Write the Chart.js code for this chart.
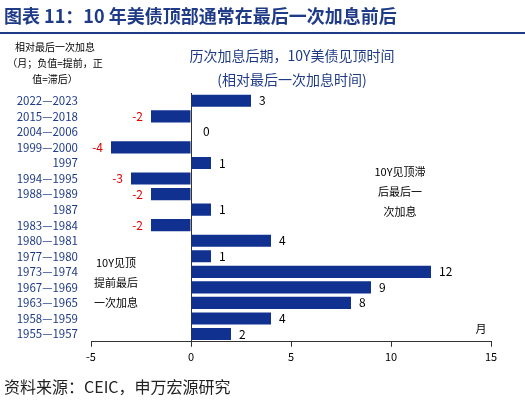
<!DOCTYPE html>
<html><head><meta charset="utf-8">
<script src="https://cdn.jsdelivr.net/npm/chart.js@4"></script>
<style>
body{margin:0;width:525px;height:409px;position:relative;background:#fff;font-family:"Noto Sans CJK SC",sans-serif;overflow:hidden}
#wrap{position:absolute;left:0;top:0;width:525px;height:409px}
#head{position:absolute;left:4px;top:2px;font-weight:bold;font-size:18px;color:#1f3b87}
#line{position:absolute;left:0;top:32px;width:525px;height:2px;background:#1f3b87}
#foot{position:absolute;left:4px;top:374px;font-size:16px;color:#222}
</style></head><body>
<div id="wrap"><canvas id="c"></canvas></div>
<div id="head">图表 11：10 年美债顶部通常在最后一次加息前后</div>
<div id="line"></div>
<div id="foot">资料来源：CEIC，申万宏源研究</div>
<script>
const periods = ['2022—2023','2015—2018','2004—2006','1999—2000','1997','1994—1995','1988—1989','1987','1983—1984','1980—1981','1977—1980','1973—1974','1967—1969','1963—1965','1958—1959','1955—1957'];
const months = [3,-2,0,-4,1,-3,-2,1,-2,4,1,12,9,8,4,2];
const xTicks = [-5,0,5,10,15];

const F = '"Noto Sans CJK SC", sans-serif';
const notes = {
  id: 'notes',
  afterDatasetsDraw(chart) {
    const ctx = chart.ctx, x = chart.scales.x, y = chart.scales.y;
    ctx.save();
    ctx.textBaseline = 'middle';
    ctx.font = '12px ' + F;
    months.forEach((v, i) => {
      const py = y.getPixelForValue(i);
      ctx.fillStyle = v < 0 ? '#e00000' : '#000';
      ctx.textAlign = v < 0 ? 'right' : 'left';
      const px = x.getPixelForValue(v) + (v < 0 ? -8 : 8);
      ctx.fillText(String(v), v === 0 ? px + 4 : px, py);
    });
    ctx.fillStyle = '#000';
    ctx.textAlign = 'center';
    ctx.font = '10px ' + F;
    ['相对最后一次加息', '（月；负值=提前，正', '值=滞后）'].forEach((t, i) => ctx.fillText(t, 55, 47 + i * 16));
    ctx.font = '14px ' + F;
    ctx.fillStyle = '#1f3b87';
    ctx.fillText('历次加息后期，10Y美债见顶时间', 292, 56);
    ctx.fillText('(相对最后一次加息时间)', 292, 80);
    ctx.fillStyle = '#000';
    ctx.font = '11px ' + F;
    ['10Y见顶滞', '后最后一', '次加息'].forEach((t, i) => ctx.fillText(t, 400, 172 + i * 20));
    ['10Y见顶', '提前最后', '一次加息'].forEach((t, i) => ctx.fillText(t, 116, 263 + i * 20));
    ctx.fillText('月', 481, 329);
    ctx.restore();
  }
};

new Chart(document.getElementById('c'), {
  type: 'bar',
  data: { labels: periods, datasets: [{ data: months, backgroundColor: '#10318f', barPercentage: 0.78, categoryPercentage: 1 }] },
  options: {
    indexAxis: 'y', responsive: true, maintainAspectRatio: false, animation: false,
    layout: { padding: { top: 93, right: 34, bottom: 43, left: 0 } },
    plugins: { legend: { display: false }, tooltip: { enabled: false } },
    scales: {
      x: {
        min: -5, max: 15,
        afterBuildTicks: s => { s.ticks = xTicks.map(v => ({ value: v })); },
        grid: { drawOnChartArea: true, color: c => c.tick && c.tick.value === 0 ? '#333' : 'transparent', tickLength: 5, tickColor: '#333' },
        border: { color: '#333' },
        ticks: { color: '#000', font: { size: 11, family: F } }
      },
      y: {
        afterFit: s => { s.width = 91; },
        grid: { display: false },
        border: { display: false },
        ticks: { color: '#1f3b87', font: { size: 11.5, family: F }, autoSkip: false, padding: 5 }
      }
    }
  },
  plugins: [notes]
});
</script>
</body></html>
